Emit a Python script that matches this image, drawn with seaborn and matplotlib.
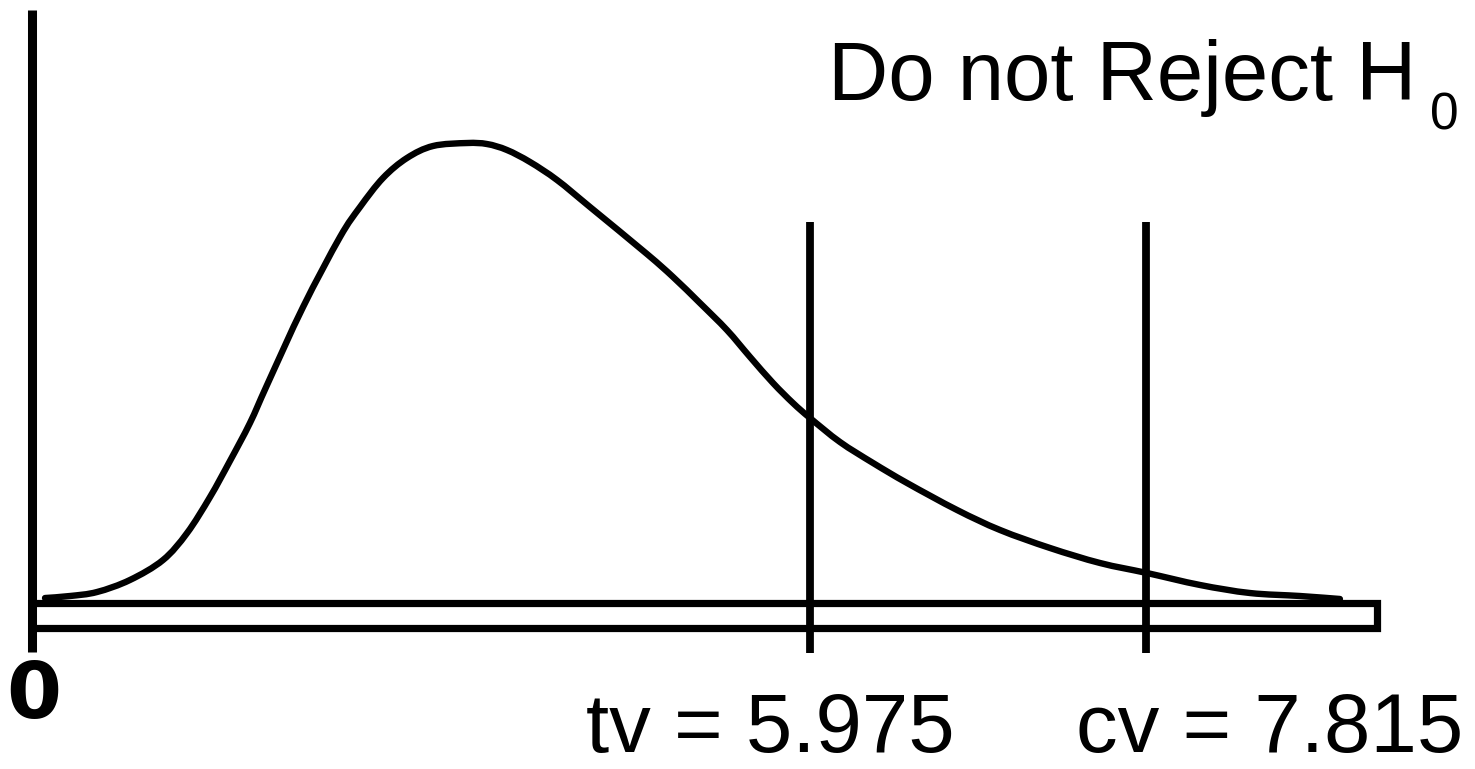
import matplotlib
matplotlib.use("Agg")
import matplotlib.pyplot as plt
from matplotlib.path import Path
from matplotlib.patches import PathPatch
import seaborn as sns
import pandas as pd

# ---- data (sketch units: bar runs 0..100 along x, curve peak = 100) ----
curve_x = [0.67, 2.53, 4.54, 6.99, 9.45, 11.24, 12.95, 14.43, 15.92, 17.19,
           19.87, 22.62, 24.11, 25.82, 27.60, 29.54, 32.07,
           33.56, 35.04, 36.76, 38.77, 41.22, 45.46, 47.40, 49.40, 51.41,
           53.13, 54.84, 56.32, 57.59, 59.82, 62.28, 64.81, 68.53, 71.73,
           75.45, 79.17, 82.66, 86.61, 90.33, 94.05, 97.02]
curve_y = [0.65, 1.09, 1.96, 4.58, 8.93, 14.81, 22.66, 30.50, 38.78, 47.06,
           64.05, 79.30, 85.84, 92.16, 96.51, 99.13, 99.78,
           99.56, 98.26, 95.64, 91.72, 85.84, 75.60, 70.59, 64.92, 59.04,
           53.16, 47.49, 43.14, 39.87, 34.64, 30.07, 25.71, 19.83, 15.47,
           11.55, 8.28, 6.10, 3.49, 1.74, 1.09, 0.44]

marker_names = ["tv", "cv"]
marker_values = [5.975, 7.815]
marker_pos = [57.6, 82.6]          # sketch position of each vertical line
title_text = "Do not Reject H"
title_sub = "0"
origin_label = "0"

# ---- figure ----
sns.set_theme(style="white")
plt.rcParams["font.family"] = ["Liberation Sans", "DejaVu Sans"]

fig = plt.figure(figsize=(14.75, 7.69), dpi=100)
ax = fig.add_axes([0, 0, 1, 1])
ax.set_xlim(-2.679, 107.07)
ax.set_ylim(-36.60, 130.94)
ax.axis("off")


def smooth_path(xs, ys):
    """Bezier path passing through the read points (Catmull-Rom tangents)."""
    pts = list(zip(xs, ys))
    verts = [pts[0]]
    codes = [Path.MOVETO]
    n = len(pts)
    for i in range(n - 1):
        p0 = pts[i - 1] if i > 0 else pts[i]
        p1 = pts[i]
        p2 = pts[i + 1]
        p3 = pts[i + 2] if i + 2 < n else pts[i + 1]
        c1 = (p1[0] + (p2[0] - p0[0]) / 6.0, p1[1] + (p2[1] - p0[1]) / 6.0)
        c2 = (p2[0] - (p3[0] - p1[0]) / 6.0, p2[1] - (p3[1] - p1[1]) / 6.0)
        verts += [c1, c2, p2]
        codes += [Path.CURVE4] * 3
    return Path(verts, codes)


ax.add_patch(PathPatch(smooth_path(curve_x, curve_y), facecolor="none",
                       edgecolor="black", linewidth=4.6, capstyle="round"))

# vertical axis line
ax.plot([-0.33, -0.33], [128.8, -11.1], color="black", linewidth=6.5,
        solid_capstyle="butt")

# horizontal bar (open rectangle)
bar_top, bar_bot = -0.44, -5.9
ax.plot([-0.33, 99.8, 99.8, -0.33], [bar_top, bar_top, bar_bot, bar_bot],
        color="black", linewidth=5.2, solid_joinstyle="miter",
        solid_capstyle="butt")

# vertical markers through seaborn
mk = pd.DataFrame({
    "x": [p for p in marker_pos for _ in range(2)],
    "y": [82.6, -11.3] * len(marker_pos),
    "name": [n for n in marker_names for _ in range(2)],
})
sns.lineplot(data=mk, x="x", y="y", units="name", estimator=None, sort=False,
             color="black", linewidth=5.6, ax=ax, legend=False)
for line in ax.lines[-len(marker_pos):]:
    line.set_solid_capstyle("butt")

# labels
ax.text(-2.2, -25.5, origin_label, fontsize=57, fontweight="bold",
        family="DejaVu Sans", ha="left", va="baseline", color="black")

label_x = [40.9, 77.4]
for name, val, lx in zip(marker_names, marker_values, label_x):
    ax.text(lx, -32.9, f"{name} = {val:.3f}", fontsize=60, ha="left",
            va="baseline", color="black")

ax.text(58.9, 109.2, title_text, fontsize=60, ha="left", va="baseline",
        color="black")
ax.text(103.7, 102.8, title_sub, fontsize=37, ha="left", va="baseline",
        color="black")

fig.savefig("out.png", dpi=100, facecolor="white")
